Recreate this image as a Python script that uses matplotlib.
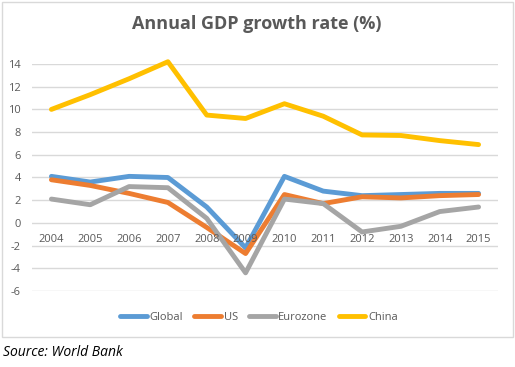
import matplotlib
matplotlib.use("Agg")
import matplotlib.pyplot as plt
from matplotlib.patches import Rectangle

years = ["2004", "2005", "2006", "2007", "2008", "2009", "2010", "2011", "2012", "2013", "2014", "2015"]
global_gdp = [4.1, 3.6, 4.1, 4.0, 1.4, -2.2, 4.1, 2.8, 2.4, 2.5, 2.6, 2.6]
us_gdp = [3.8, 3.3, 2.6, 1.8, -0.4, -2.7, 2.5, 1.7, 2.3, 2.2, 2.4, 2.5]
eurozone_gdp = [2.1, 1.6, 3.2, 3.1, 0.4, -4.4, 2.1, 1.7, -0.8, -0.3, 1.0, 1.4]
china_gdp = [10.0, 11.3, 12.7, 14.2, 9.5, 9.2, 10.5, 9.4, 7.75, 7.7, 7.25, 6.9]
yticks = [-6, -4, -2, 0, 2, 4, 6, 8, 10, 12, 14]

series = [("Global", global_gdp, "#5B9BD5"),
          ("US", us_gdp, "#ED7D31"),
          ("Eurozone", eurozone_gdp, "#A5A5A5"),
          ("China", china_gdp, "#FFC000")]

W, H = 515, 367
fig = plt.figure(figsize=(W / 100, H / 100), dpi=100)
fig.patch.set_facecolor("white")

# chart frame
fig.add_artist(Rectangle((2 / W, 30 / H), 511 / W, 335 / H, transform=fig.transFigure,
                         facecolor="none", edgecolor="#d9d9d9", linewidth=1))

ax = fig.add_axes([32 / W, (H - 291) / H, 466 / W, 227 / H])
x = list(range(len(years)))
for yt in yticks:
    ax.axhline(yt, color="#d9d9d9", lw=1, zorder=0)
for name, vals, col in series:
    ax.plot(x, vals, color=col, lw=3.5, label=name, solid_capstyle="round",
            solid_joinstyle="round", clip_on=False, zorder=2)

ax.set_axisbelow(False)
ax.set_xlim(-0.5, len(years) - 0.5)
ax.set_ylim(-6, 14)
ax.set_yticks(yticks)
ax.set_yticklabels([str(t) for t in yticks])
ax.set_xticks(x)
ax.set_xticklabels(years)
ax.grid(False)
for s in ["left", "right", "top"]:
    ax.spines[s].set_visible(False)
ax.spines["bottom"].set_position(("data", 0))
ax.spines["bottom"].set_visible(False)
ax.tick_params(axis="both", length=0, colors="#595959", labelsize=8)
ax.tick_params(axis="y", pad=8)
ax.tick_params(axis="x", pad=8)
for lbl in ax.get_xticklabels() + ax.get_yticklabels():
    lbl.set_fontfamily("Open Sans")
ax.set_facecolor("none")

fig.text(257 / W, 1 - 24 / H, "Annual GDP growth rate (%)", ha="center", va="center",
         fontsize=13, fontweight="bold", color="#595959", family="Open Sans")

leg = fig.legend(loc="center", bbox_to_anchor=(259 / W, 1 - 317 / H), ncol=4, frameon=False,
                 prop={"family": "Open Sans", "size": 8}, handlelength=2.4,
                 handletextpad=0.25, columnspacing=1.0)
for t in leg.get_texts():
    t.set_color("#595959")

fig.text(3 / W, 1 - 352 / H, "Source: World Bank", ha="left", va="center",
         fontsize=10, fontstyle="italic", color="#000000", family="Open Sans")

fig.savefig("out.png", dpi=100)
